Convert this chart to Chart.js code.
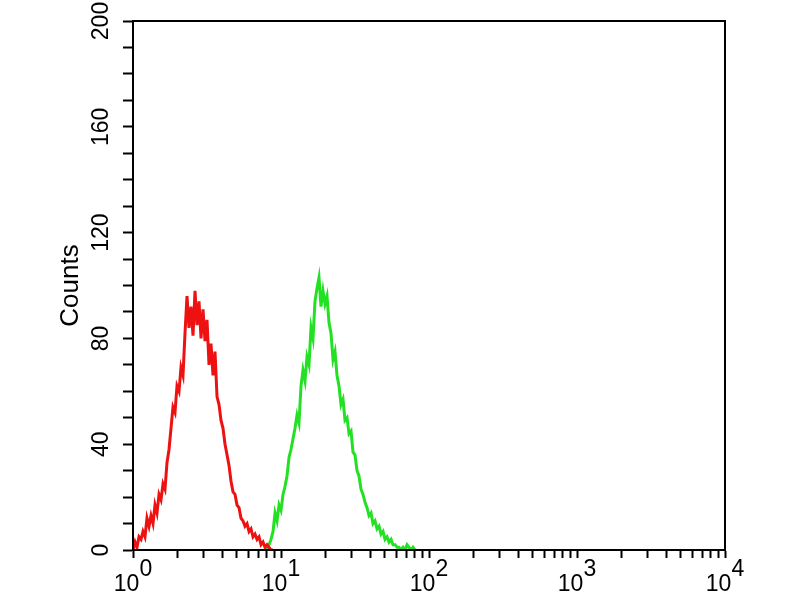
<!DOCTYPE html>
<html><head><meta charset="utf-8">
<script src="https://cdn.jsdelivr.net/npm/chart.js@4.4.1/dist/chart.umd.min.js"></script>
<style>html,body{margin:0;padding:0;background:#fff}#wrap{width:800px;height:600px}</style>
</head><body><div id="wrap"><canvas id="c" width="800" height="600"></canvas></div>
<script>
// Fluorescence intensity (log) bins and event counts for the two histograms
const redX = [1.000,1.032,1.064,1.098,1.133,1.168,1.205,1.243,1.283,1.323,
  1.365,1.408,1.453,1.499,1.546,1.595,1.645,1.697,1.751,1.806,
  1.863,1.922,1.983,2.046,2.110,2.177,2.246,2.317,2.390,2.466,
  2.544,2.624,2.707,2.793,2.881,2.972,3.066,3.162,3.263,3.365,
  3.472,3.582,3.695,3.812,3.933,4.057,4.185,4.318,4.454,4.595,
  4.740,4.890,5.045,5.204,5.369,5.539,5.714,5.894,6.081,6.273,
  6.471,6.676,6.887,7.105,7.330,7.561,7.801,8.047,8.302,8.565,8.835];
const redCounts = [0,3,1,5,4,7,5,12,9,13,
  10,17,14,21,19,25,23,33,38,46,
  54,52,62,60,69,66,82,96,84,92,
  81,98,85,94,80,91,79,87,70,78,
  66,75,58,55,49,46,40,36,32,26,
  22,21,17,16,12,11,9,10,7,8,
  5,6,4,5,2,3,1,2,1,0,0];
const greenX = [8.047,8.302,8.565,8.835,9.115,9.403,9.701,10.00,10.32,10.64,
  10.98,11.33,11.68,12.05,12.43,12.83,13.23,13.65,14.08,14.53,
  14.99,15.46,15.95,16.45,16.97,17.51,18.06,18.63,19.22,19.83,
  20.46,21.10,21.77,22.46,23.17,23.90,24.66,25.44,26.24,27.07,
  27.93,28.81,29.72,30.66,31.62,32.63,33.65,34.72,35.82,36.95,
  38.12,39.33,40.57,41.85,43.18,44.54,45.95,47.40,48.90,50.45,
  52.04,53.69,55.39,57.14,58.94,60.81,62.73,64.71,66.76,68.87,
  71.05,73.30,75.61,78.01,80.47];
const greenCounts = [0,2,4,7,14,11,17,15,21,24,
  28,35,38,42,46,51,48,62,68,64,
  73,70,84,80,94,99,103,92,98,93,
  96,86,82,72,75,66,62,55,57,49,
  50,44,45,37,36,30,28,23,21,18,
  16,13,14,10,11,8,9,6,7,4,
  5,3,4,2,2,1,1,0,1,0,
  2,1,0,1,0];

// Axis tick values and labels
const xDecades = [1, 10, 100, 1000, 10000];
const xDecadeExponents = ['0', '1', '2', '3', '4'];
const xMinorMultipliers = [2, 3, 4, 5, 6, 7, 8, 9];
const yTickLabels = [0, 40, 80, 120, 160, 200];
const yAxisTitle = 'Counts';

const xTickValues = [];
xDecades.forEach((d, i) => {
  xTickValues.push(d);
  if (i < xDecades.length - 1) xMinorMultipliers.forEach(m => xTickValues.push(d * m));
});

const FONT = "'Liberation Sans', Arial, sans-serif";

const framePlugin = {
  id: 'frame',
  afterDatasetsDraw(chart) {
    const {ctx, chartArea: a} = chart;
    ctx.save();
    ctx.strokeStyle = '#000';
    ctx.lineWidth = 2;
    ctx.strokeRect(a.left, a.top, a.right - a.left, a.bottom - a.top);
    ctx.restore();
  }
};

new Chart(document.getElementById('c'), {
  type: 'line',
  data: {
    datasets: [
      {
        label: 'Control',
        data: redX.map((x, i) => ({x, y: redCounts[i]})),
        borderColor: '#ee1111',
        borderWidth: 3,
        pointRadius: 0,
        tension: 0,
        fill: false
      },
      {
        label: 'Sample',
        data: greenX.map((x, i) => ({x, y: greenCounts[i]})),
        borderColor: '#22e022',
        borderWidth: 3,
        pointRadius: 0,
        tension: 0,
        fill: false
      }
    ]
  },
  options: {
    responsive: false,
    animation: false,
    layout: {padding: {left: 51, top: 21, right: 75, bottom: 0}},
    plugins: {legend: {display: false}, tooltip: {enabled: false}},
    scales: {
      x: {
        type: 'logarithmic',
        min: 1,
        max: 10000,
        afterBuildTicks(scale) {
          scale.ticks = xTickValues.map(v => ({value: v, major: xDecades.includes(v)}));
        },
        afterFit(scale) { scale.height = 50; },
        border: {display: true, color: '#000', width: 2},
        grid: {drawOnChartArea: false, drawTicks: true, tickLength: 8, tickColor: '#000', tickWidth: 2},
        ticks: {
          autoSkip: false,
          maxRotation: 0,
          minRotation: 0,
          padding: 4,
          color: '#000',
          font: {family: FONT, size: 23, lineHeight: 0.66},
          callback(value) {
            const i = xDecades.indexOf(value);
            return i >= 0 ? ['\u2007\u2007' + xDecadeExponents[i], '10\u2007'] : '';
          }
        }
      },
      y: {
        type: 'linear',
        min: 0,
        max: 200,
        afterFit(scale) { scale.width = 82; },
        border: {display: true, color: '#000', width: 2},
        grid: {drawOnChartArea: false, drawTicks: true, tickLength: 10, tickColor: '#000', tickWidth: 2},
        title: {display: true, text: yAxisTitle, color: '#000', font: {family: FONT, size: 26}, padding: {top: 4, bottom: 4}},
        ticks: {
          stepSize: 10,
          autoSkip: false,
          minRotation: 90,
          maxRotation: 90,
          crossAlign: 'center',
          padding: 2,
          color: '#000',
          font: {family: FONT, size: 23},
          callback(value) { return yTickLabels.includes(value) ? String(value) : ''; }
        }
      }
    }
  },
  plugins: [framePlugin]
});
</script>
</body></html>
